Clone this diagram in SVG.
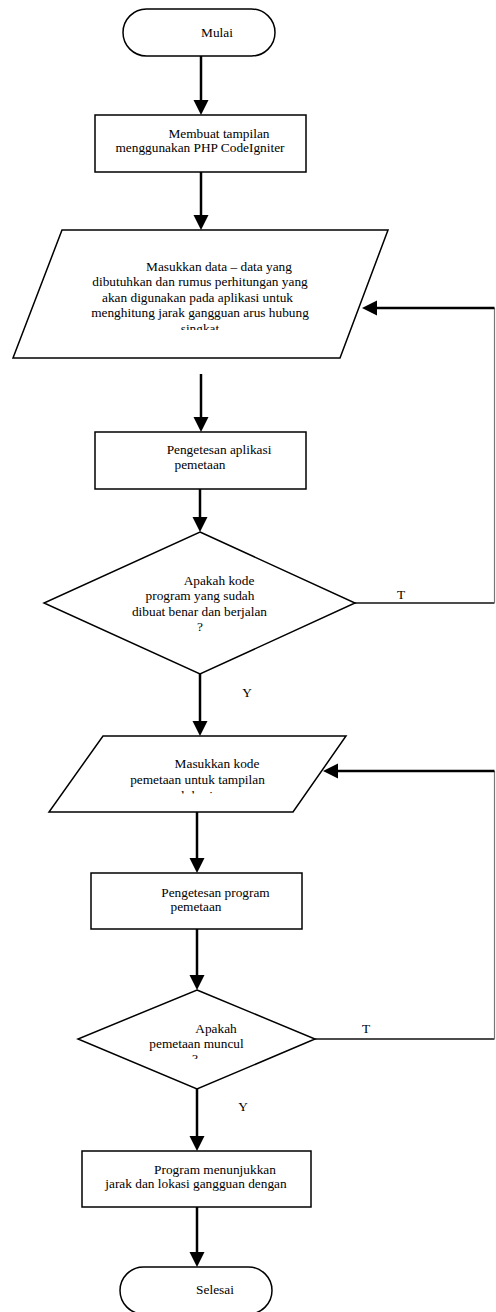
<svg xmlns="http://www.w3.org/2000/svg" width="496" height="1312" viewBox="0 0 496 1312">
<style>
.s{fill:#fff;stroke:#000;stroke-width:1.5}
.t{font-family:"Liberation Serif","Times New Roman",serif;font-size:13.33px;fill:#000;text-anchor:middle}
.c{fill:none;stroke:#000;stroke-width:2.5}
.ca{fill:none;stroke:#000;stroke-width:2.5;marker-end:url(#ah)}
.thin{fill:none;stroke:#111;stroke-width:1.5}
.side{fill:none;stroke:#777;stroke-width:1.2}
</style>
<defs>
<marker id="ah" markerUnits="userSpaceOnUse" markerWidth="16" markerHeight="16" viewBox="0 0 16 16" refX="1" refY="7.5" orient="auto">
<path d="M0,0 L15,7.5 L0,15 Z" fill="#000"/>
</marker>
<clipPath id="cp1"><rect x="0" y="250" width="400" height="80"/></clipPath>
<clipPath id="cp2"><rect x="0" y="750" width="400" height="43.5"/></clipPath>
<clipPath id="cp3"><rect x="0" y="1015" width="400" height="44"/></clipPath>
</defs>
<rect width="496" height="1312" fill="#fff"/>
<g id="connectors">
<line class="ca" x1="201" y1="56" x2="201" y2="101"/>
<line class="ca" x1="201" y1="172" x2="201" y2="216"/>
<line class="ca" x1="201" y1="374" x2="201" y2="418"/>
<line class="ca" x1="200" y1="489" x2="200" y2="518"/>
<line class="ca" x1="200" y1="674" x2="200" y2="722"/>
<line class="ca" x1="197" y1="812" x2="197" y2="859"/>
<line class="ca" x1="197" y1="929" x2="197" y2="976"/>
<line class="ca" x1="197" y1="1089" x2="197" y2="1137"/>
<line class="ca" x1="197" y1="1207" x2="197" y2="1253"/>
<line class="thin" x1="355" y1="603" x2="494.5" y2="603"/>
<line class="side" x1="494.5" y1="603" x2="494.5" y2="308"/>
<line class="ca" x1="494.5" y1="308" x2="376" y2="308"/>
<line class="thin" x1="315" y1="1039" x2="494.5" y2="1039"/>
<line class="side" x1="494.5" y1="1039" x2="494.5" y2="771"/>
<line class="ca" x1="494.5" y1="771" x2="337" y2="771"/>
<text class="t" x="401" y="599">T</text>
<text class="t" x="247" y="697">Y</text>
<text class="t" x="366" y="1033">T</text>
<text class="t" x="243" y="1111">Y</text>
</g>
<g id="mulai">
<rect class="s" x="123" y="9" width="152" height="47" rx="23.5"/>
<text class="t" x="217" y="36.5">Mulai</text>
</g>
<g id="membuat">
<rect class="s" x="95" y="115" width="211" height="57"/>
<text class="t" x="219" y="137.5">Membuat tampilan</text>
<text class="t" x="200" y="152">menggunakan PHP CodeIgniter</text>
</g>
<g id="masukkan-data">
<polygon class="s" points="62,230 388,230 340,358 13,358"/>
<g clip-path="url(#cp1)">
<text class="t" x="219" y="270.5">Masukkan data – data yang</text>
<text class="t" x="200" y="286">dibutuhkan dan rumus perhitungan yang</text>
<text class="t" x="197.5" y="301.5">akan digunakan pada aplikasi untuk</text>
<text class="t" x="200" y="317">menghitung jarak gangguan arus hubung</text>
<text class="t" x="200" y="332.5">singkat</text>
</g>
</g>
<g id="pengetesan-aplikasi">
<rect class="s" x="95" y="432" width="211" height="57"/>
<text class="t" x="219" y="454">Pengetesan aplikasi</text>
<text class="t" x="200" y="469">pemetaan</text>
</g>
<g id="cek-kode">
<polygon class="s" points="200,532 355,603 200,674 44,603"/>
<text class="t" x="219" y="585">Apakah kode</text>
<text class="t" x="200" y="600">program yang sudah</text>
<text class="t" x="199.5" y="615.5">dibuat benar dan berjalan</text>
<text class="t" x="200" y="630.5">?</text>
</g>
<g id="masukkan-kode">
<polygon class="s" points="103,736 346,736 293,812 49,812"/>
<g clip-path="url(#cp2)">
<text class="t" x="217" y="768.3">Masukkan kode</text>
<text class="t" x="197.5" y="784">pemetaan untuk tampilan</text>
<text class="t" x="197" y="799.5">lokasi</text>
</g>
</g>
<g id="pengetesan-program">
<rect class="s" x="91" y="873" width="211" height="56"/>
<text class="t" x="215.5" y="896.5">Pengetesan program</text>
<text class="t" x="196" y="910.5">pemetaan</text>
</g>
<g id="cek-peta">
<polygon class="s" points="197,990 315,1039 197,1089 78,1039"/>
<g clip-path="url(#cp3)">
<text class="t" x="216" y="1032.5">Apakah</text>
<text class="t" x="196.5" y="1047.5">pemetaan muncul</text>
<text class="t" x="195" y="1063">?</text>
</g>
</g>
<g id="program-menunjukkan">
<rect class="s" x="82" y="1151" width="229" height="56"/>
<text class="t" x="215" y="1174">Program menunjukkan</text>
<text class="t" x="196" y="1188.3">jarak dan lokasi gangguan dengan</text>
</g>
<g id="selesai">
<rect class="s" x="120" y="1267" width="152" height="47" rx="23.5"/>
<text class="t" x="215" y="1294.3">Selesai</text>
</g>
</svg>
